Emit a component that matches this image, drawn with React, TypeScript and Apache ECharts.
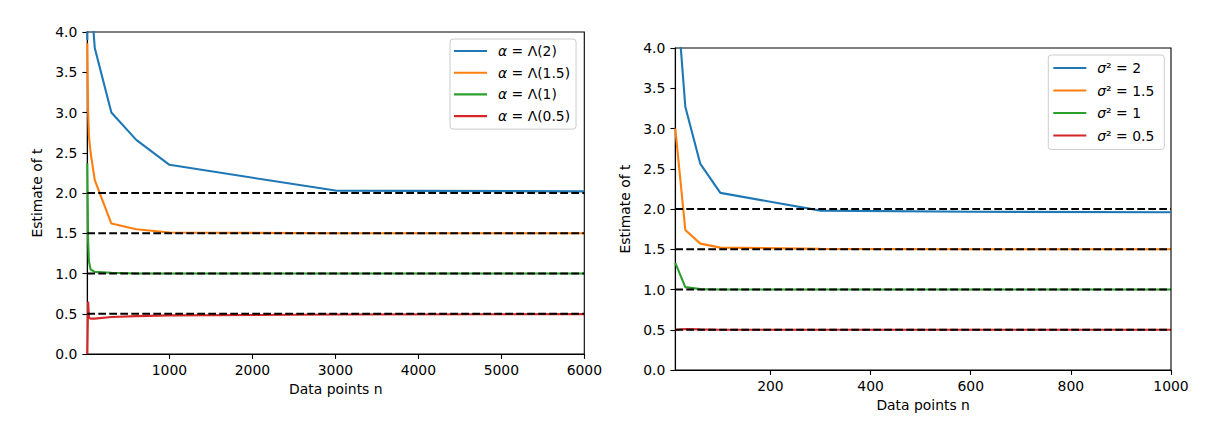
import React, { useEffect, useRef } from "react";
import * as echarts from "echarts";

// ---- Left panel data ----
const leftN = [10, 20, 30, 50, 100, 300, 600, 1000, 3000, 6000];
const leftAlpha2 = [3.9, 6.0, 5.4, 4.5, 3.8, 3.0, 2.66, 2.35, 2.03, 2.02];
const leftAlpha15 = [3.86, 3.0, 2.7, 2.5, 2.16, 1.62, 1.55, 1.51, 1.5, 1.5];
const leftAlpha1 = [2.37, 1.4, 1.15, 1.05, 1.02, 1.01, 1.0, 1.0, 1.0, 1.0];
const leftAlpha05 = [0.0, 0.65, 0.45, 0.44, 0.44, 0.46, 0.47, 0.48, 0.49, 0.495];
const leftNames = ["α = Λ(2)", "α = Λ(1.5)", "α = Λ(1)", "α = Λ(0.5)"];
const leftTicksX = [1000, 2000, 3000, 4000, 5000, 6000];

// ---- Right panel data ----
const rightN = [10, 30, 60, 100, 300, 600, 1000];
const rightS2 = [4.89, 3.27, 2.56, 2.2, 1.98, 1.965, 1.96];
const rightS15 = [3.0, 1.74, 1.57, 1.52, 1.505, 1.5, 1.5];
const rightS1 = [1.33, 1.03, 1.005, 1.0, 1.0, 1.0, 1.0];
const rightS05 = [0.5, 0.51, 0.505, 0.5, 0.5, 0.5, 0.5];
const rightNames = ["σ² = 2", "σ² = 1.5", "σ² = 1", "σ² = 0.5"];
const rightTicksX = [200, 400, 600, 800, 1000];

const refLevels = [2, 1.5, 1, 0.5];
const colors = ["#1f77b4", "#ff7f0e", "#2ca02c", "#d62728"];

const FONT = "DejaVu Sans";
const FS = 13.9;

function zip(xs: number[], ys: number[]) {
  return xs.map((x, i) => [x, ys[i]]);
}

function makeOption(cfg: any) {
  const { xs, ys, names, ticks, xmin, xmax, grid, legendPos, italicChar } = cfg;
  const series: any[] = ys.map((arr: number[], i: number) => ({
    type: "line",
    name: names[i],
    data: zip(xs, arr),
    symbol: "none",
    color: colors[i],
    lineStyle: { color: colors[i], width: 2.1 },
    z: 2,
    clip: true,
    silent: true,
  }));
  refLevels.forEach((lv) => {
    series.push({
      type: "line",
      data: [
        [xmin, lv],
        [xmax, lv],
      ],
      symbol: "none",
      lineStyle: { color: "#000", width: 2.1, type: [7.7, 3.3] },
      z: 3,
      silent: true,
    });
  });
  return {
    animation: false,
    textStyle: { fontFamily: FONT },
    grid: {
      ...grid,
      show: true,
      containLabel: false,
      outerBoundsMode: "none",
      borderColor: "#000",
      borderWidth: 1.1,
      backgroundColor: "transparent",
    },
    legend: {
      orient: "vertical",
      left: legendPos.left,
      top: legendPos.top,
      data: names,
      icon: "rect",
      itemWidth: 33,
      itemHeight: 2.1,
      itemGap: legendPos.gap,
      padding: legendPos.padding,
      backgroundColor: "rgba(255,255,255,0.8)",
      borderColor: "#cccccc",
      borderWidth: 1,
      borderRadius: 3,
      selectedMode: false,
      formatter: (name: string) => name.replace(italicChar, "{i|" + italicChar + "}"),
      textStyle: {
        fontFamily: FONT,
        fontSize: FS,
        color: "#000",
        lineHeight: 16,
        width: legendPos.textWidth,
        padding: [0, 0, 0, 6],
        rich: {
          i: { fontFamily: FONT, fontSize: FS, fontStyle: "italic", color: "#000", lineHeight: 16 },
        },
      },
    },
    xAxis: {
      type: "value",
      min: xmin,
      max: xmax,
      name: "Data points n",
      nameLocation: "middle",
      nameGap: 28,
      nameTextStyle: { fontFamily: FONT, fontSize: FS, color: "#000" },
      axisLine: { show: true, onZero: false, lineStyle: { color: "#000", width: 1.1 } },
      axisTick: {
        show: true,
        inside: false,
        length: 4.9,
        lineStyle: { color: "#000", width: 1.1 },
        customValues: ticks,
      },
      axisLabel: {
        fontFamily: FONT,
        fontSize: FS,
        color: "#000",
        margin: 9,
        customValues: ticks,
        hideOverlap: false,
        formatter: (v: number) => String(v),
      },
      splitLine: { show: false },
    },
    yAxis: {
      type: "value",
      min: 0,
      max: 4,
      interval: 0.5,
      name: "Estimate of t",
      nameLocation: "middle",
      nameGap: 40,
      nameRotate: 90,
      nameTextStyle: { fontFamily: FONT, fontSize: FS, color: "#000" },
      axisLine: { show: true, onZero: false, lineStyle: { color: "#000", width: 1.1 } },
      axisTick: { show: true, inside: false, length: 4.9, lineStyle: { color: "#000", width: 1.1 } },
      axisLabel: {
        fontFamily: FONT,
        fontSize: FS,
        color: "#000",
        margin: 10,
        formatter: (v: number) => v.toFixed(1),
      },
      splitLine: { show: false },
    },
    series,
  };
}

function EChart({ option, style }: { option: any; style: React.CSSProperties }) {
  const ref = useRef<HTMLDivElement>(null);
  useEffect(() => {
    const chart = echarts.init(ref.current as HTMLDivElement, undefined, { renderer: "svg" });
    chart.setOption(option);
    return () => chart.dispose();
  }, []);
  return <div ref={ref} style={style} />;
}

export default function App() {
  const leftOption = makeOption({
    xs: leftN,
    ys: [leftAlpha2, leftAlpha15, leftAlpha1, leftAlpha05],
    names: leftNames,
    ticks: leftTicksX,
    xmin: 10,
    xmax: 6000,
    grid: { left: 87.3, right: 25.7, top: 32, bottom: 73 },
    legendPos: { left: 450, top: 39, padding: [4, 6, 5, 4], gap: 5.7, textWidth: 72 },
    italicChar: "α",
  });
  const rightOption = makeOption({
    xs: rightN,
    ys: [rightS2, rightS15, rightS1, rightS05],
    names: rightNames,
    ticks: rightTicksX,
    xmin: 10,
    xmax: 1000,
    grid: { left: 82.3, right: 35, top: 48, bottom: 57 },
    legendPos: { left: 455.3, top: 55, padding: [5, 5, 6, 5], gap: 6.5, textWidth: 62 },
    italicChar: "σ",
  });
  return (
    <div style={{ position: "fixed", left: 0, top: 0, width: 1206, height: 427, background: "#fff", overflow: "hidden" }}>
      <EChart option={leftOption} style={{ position: "absolute", left: 0, top: 0, width: 610, height: 427 }} />
      <EChart option={rightOption} style={{ position: "absolute", left: 593, top: 0, width: 613, height: 427 }} />
    </div>
  );
}
